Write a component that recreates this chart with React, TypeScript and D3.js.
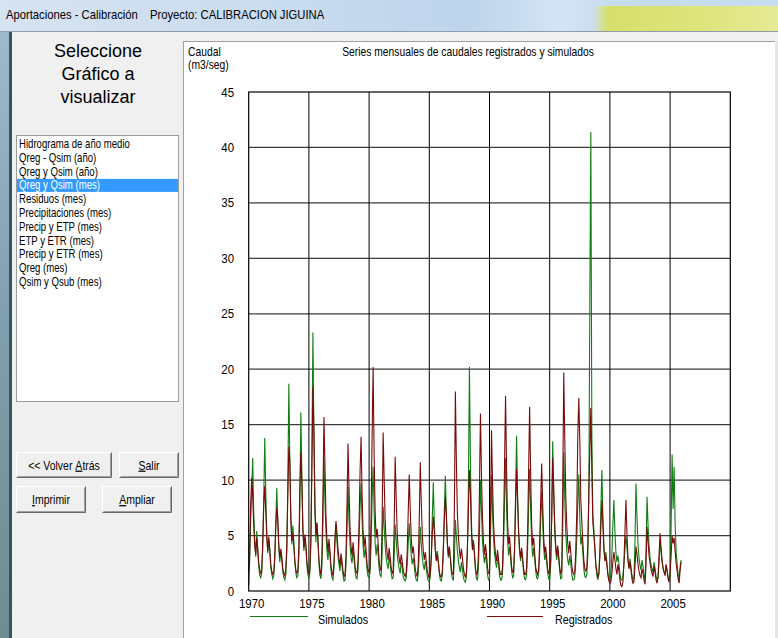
import React from "react";
import * as d3 from "d3";

// Monthly flows (m3/s), January 1970 – December 2005, one row per year
const years = d3.range(1970, 2006);

const simulados: number[][] = [
  [0.5, 2.8, 6.5, 9.0, 12.0, 7.2, 4.6, 3.1, 5.4, 3.6, 2.2, 1.4],
  [1.2, 1.6, 3.9, 8.4, 13.8, 8.9, 5.2, 3.4, 4.6, 3.8, 2.1, 1.5],
  [1.1, 1.4, 2.9, 6.2, 9.3, 6.1, 3.8, 2.6, 3.5, 2.8, 1.7, 1.2],
  [1.0, 1.5, 3.6, 9.8, 18.7, 11.5, 6.8, 4.2, 5.9, 4.4, 2.6, 1.6],
  [1.2, 1.4, 3.1, 7.9, 16.1, 10.4, 5.7, 3.6, 4.8, 3.9, 2.3, 1.5],
  [1.1, 1.6, 4.2, 12.6, 23.3, 13.8, 7.1, 4.4, 6.2, 4.6, 2.5, 1.4],
  [1.1, 2.3, 6.1, 11.8, 8.2, 5.3, 3.6, 2.8, 4.1, 3.2, 1.9, 1.2],
  [1.0, 2.1, 4.3, 6.0, 4.4, 3.1, 2.4, 1.8, 2.9, 2.3, 1.4, 0.9],
  [1.0, 2.4, 5.6, 9.4, 6.3, 4.2, 3.0, 2.5, 3.7, 2.9, 1.8, 1.2],
  [1.1, 2.0, 4.8, 7.5, 9.7, 6.4, 4.1, 3.0, 3.9, 3.0, 1.9, 1.3],
  [1.2, 1.7, 4.4, 8.3, 11.2, 7.1, 4.3, 3.2, 4.2, 3.3, 2.0, 1.4],
  [1.3, 3.4, 7.6, 5.8, 4.1, 3.0, 2.4, 2.0, 3.1, 2.5, 1.6, 1.1],
  [1.2, 3.1, 6.0, 4.6, 3.3, 2.5, 2.0, 1.6, 2.6, 2.1, 1.3, 1.0],
  [0.9, 1.2, 2.4, 4.3, 6.1, 4.5, 3.2, 2.4, 3.0, 2.3, 1.4, 1.0],
  [0.9, 1.6, 3.4, 5.8, 4.2, 3.0, 2.3, 1.9, 2.7, 2.1, 1.3, 0.9],
  [0.8, 1.3, 3.2, 6.7, 9.8, 6.2, 3.9, 2.8, 3.6, 2.7, 1.6, 1.0],
  [0.9, 1.4, 3.6, 7.3, 10.4, 6.8, 4.2, 3.0, 3.9, 2.9, 1.7, 1.1],
  [1.0, 2.9, 6.4, 4.9, 3.6, 2.7, 2.1, 1.7, 2.6, 2.0, 1.2, 0.9],
  [0.8, 1.3, 3.8, 9.6, 20.2, 11.4, 6.2, 3.9, 4.6, 3.4, 1.9, 1.1],
  [1.0, 2.2, 5.3, 10.0, 7.1, 4.6, 3.2, 2.5, 3.4, 2.6, 1.5, 1.0],
  [1.1, 4.6, 10.5, 7.2, 4.8, 3.4, 2.6, 2.1, 3.0, 2.4, 1.4, 1.0],
  [1.0, 1.6, 4.1, 8.2, 12.0, 7.6, 4.6, 3.2, 4.0, 3.0, 1.8, 1.2],
  [1.3, 3.8, 8.9, 14.0, 8.6, 5.2, 3.5, 2.7, 3.6, 2.8, 1.6, 1.1],
  [1.0, 1.5, 3.9, 7.6, 11.0, 7.3, 4.5, 3.1, 3.9, 2.9, 1.8, 1.2],
  [1.1, 1.6, 3.4, 6.4, 9.0, 6.2, 3.9, 2.8, 3.4, 2.6, 1.6, 1.1],
  [1.0, 2.4, 6.8, 13.5, 8.7, 5.4, 3.6, 2.8, 3.8, 2.9, 1.7, 1.1],
  [1.2, 5.6, 12.5, 8.4, 5.3, 3.7, 2.8, 2.3, 3.2, 2.5, 1.5, 1.0],
  [1.0, 1.3, 2.6, 4.8, 7.9, 10.5, 6.6, 4.2, 4.9, 3.5, 2.0, 1.3],
  [1.2, 1.5, 3.2, 8.4, 26.3, 41.4, 14.2, 6.8, 5.6, 3.9, 2.2, 1.4],
  [1.0, 1.6, 3.7, 7.4, 10.9, 6.8, 4.1, 2.9, 3.5, 2.6, 1.6, 1.1],
  [1.0, 1.5, 3.4, 6.0, 8.2, 5.4, 3.5, 2.6, 3.2, 2.5, 1.5, 1.0],
  [1.0, 1.3, 2.4, 3.8, 5.0, 3.9, 2.7, 2.1, 2.9, 2.2, 1.4, 1.0],
  [1.2, 4.4, 9.7, 6.6, 4.2, 3.0, 2.3, 1.9, 2.8, 2.2, 1.4, 1.0],
  [3.6, 8.5, 6.0, 4.1, 3.0, 2.4, 2.0, 1.7, 2.6, 2.1, 1.3, 1.0],
  [1.2, 2.6, 4.5, 3.5, 2.6, 2.0, 1.7, 1.5, 2.3, 1.8, 1.2, 0.9],
  [1.4, 5.8, 12.3, 7.4, 11.2, 6.1, 3.6, 2.4, 1.5, 1.1, 2.2, 2.8],
];

const registrados: number[][] = [
  [1.8, 3.5, 7.8, 10.2, 8.6, 5.9, 4.1, 3.3, 4.8, 3.9, 2.5, 1.9],
  [1.6, 1.9, 4.4, 7.6, 9.5, 7.3, 4.8, 3.6, 4.9, 3.7, 2.4, 1.8],
  [1.5, 1.7, 3.2, 5.8, 7.5, 6.6, 4.2, 3.0, 3.8, 3.1, 2.0, 1.6],
  [1.4, 2.0, 4.1, 8.7, 13.0, 11.8, 6.4, 4.5, 5.2, 4.0, 2.7, 1.9],
  [1.6, 1.8, 3.9, 9.4, 12.5, 9.6, 5.5, 3.9, 5.1, 4.2, 2.6, 1.9],
  [1.5, 2.1, 5.0, 11.2, 18.4, 14.6, 7.9, 5.0, 6.1, 4.7, 2.8, 1.8],
  [1.5, 3.1, 8.4, 15.7, 11.3, 6.8, 4.6, 3.5, 4.7, 3.6, 2.3, 1.7],
  [1.4, 2.6, 4.8, 6.3, 5.2, 3.8, 2.9, 2.3, 3.4, 2.7, 1.8, 1.3],
  [1.5, 3.2, 7.9, 13.3, 9.1, 5.6, 4.0, 3.2, 4.4, 3.4, 2.2, 1.7],
  [1.6, 2.7, 6.2, 10.8, 13.9, 8.7, 5.4, 3.9, 4.9, 3.7, 2.4, 1.8],
  [1.7, 2.4, 6.9, 14.1, 20.2, 12.4, 7.2, 4.8, 5.6, 4.3, 2.7, 1.9],
  [1.9, 6.3, 14.3, 10.1, 6.4, 4.5, 3.4, 2.8, 3.9, 3.1, 2.1, 1.6],
  [1.8, 5.9, 12.1, 8.4, 5.3, 3.8, 2.9, 2.4, 3.3, 2.7, 1.9, 1.5],
  [1.3, 1.7, 3.6, 7.1, 10.5, 7.4, 4.8, 3.4, 4.0, 3.0, 2.0, 1.5],
  [1.3, 2.5, 6.4, 11.6, 8.0, 5.1, 3.6, 2.8, 3.5, 2.7, 1.8, 1.4],
  [1.2, 1.6, 3.0, 5.2, 6.7, 5.4, 3.6, 2.7, 3.3, 2.6, 1.7, 1.3],
  [1.3, 1.8, 3.9, 6.4, 8.5, 6.9, 4.4, 3.2, 4.0, 3.0, 2.0, 1.5],
  [1.6, 7.4, 18.0, 11.6, 7.0, 4.9, 3.7, 2.9, 3.8, 3.0, 2.0, 1.5],
  [1.2, 1.7, 3.9, 7.4, 10.9, 8.8, 5.3, 3.7, 4.4, 3.3, 2.1, 1.5],
  [1.6, 3.4, 9.2, 16.0, 10.5, 6.6, 4.4, 3.3, 4.2, 3.3, 2.1, 1.6],
  [1.7, 6.8, 14.5, 9.9, 6.2, 4.4, 3.3, 2.7, 3.7, 2.9, 1.9, 1.5],
  [1.5, 2.2, 5.6, 11.4, 17.6, 11.0, 6.3, 4.2, 4.9, 3.6, 2.2, 1.7],
  [1.7, 3.9, 7.6, 11.0, 8.1, 5.4, 3.8, 3.0, 3.9, 3.0, 2.0, 1.5],
  [1.5, 2.1, 5.2, 10.9, 16.6, 10.6, 6.1, 4.1, 4.8, 3.5, 2.2, 1.7],
  [1.5, 2.0, 4.3, 8.0, 11.5, 7.9, 4.9, 3.4, 4.0, 3.0, 2.0, 1.6],
  [1.6, 2.8, 6.6, 12.0, 9.3, 6.1, 4.1, 3.2, 4.1, 3.1, 2.1, 1.6],
  [1.8, 9.3, 19.7, 13.8, 8.6, 5.9, 4.3, 3.4, 4.5, 3.5, 2.3, 1.7],
  [1.5, 1.8, 3.7, 7.2, 14.0, 17.4, 13.6, 8.2, 6.3, 4.4, 2.8, 2.0],
  [1.8, 2.1, 4.3, 8.9, 12.6, 16.5, 10.8, 6.2, 5.1, 3.8, 2.4, 1.8],
  [1.2, 1.5, 3.1, 5.8, 8.2, 6.0, 3.8, 2.7, 3.1, 2.3, 1.4, 0.9],
  [0.7, 0.9, 1.6, 2.7, 3.5, 2.8, 2.0, 1.5, 2.4, 1.8, 1.0, 0.5],
  [0.4, 0.8, 2.6, 5.4, 8.2, 5.1, 3.0, 2.0, 2.6, 1.9, 1.1, 0.7],
  [0.8, 2.2, 4.0, 3.3, 2.4, 1.8, 1.4, 1.2, 2.0, 1.6, 1.0, 0.6],
  [2.4, 5.8, 4.5, 3.2, 2.5, 2.0, 1.6, 1.3, 2.2, 1.7, 1.0, 0.7],
  [1.3, 3.3, 5.2, 3.9, 2.8, 2.1, 1.7, 1.4, 2.4, 1.9, 1.1, 0.8],
  [1.6, 3.2, 5.0, 4.3, 4.8, 3.6, 2.5, 1.8, 1.1, 0.7, 1.9, 2.6],
];

const yTicks = [0, 5, 10, 15, 20, 25, 30, 35, 40, 45];
const xTicks = [1970, 1975, 1980, 1985, 1990, 1995, 2000, 2005];
const xGrid = [1975, 1980, 1985, 1990, 1995, 2000, 2005];

const graficos = [
  "Hidrograma de año medio",
  "Qreg - Qsim (año)",
  "Qreg y Qsim (año)",
  "Qreg y Qsim (mes)",
  "Residuos (mes)",
  "Precipitaciones (mes)",
  "Precip y ETP (mes)",
  "ETP y ETR (mes)",
  "Precip y ETR (mes)",
  "Qreg (mes)",
  "Qsim y Qsub (mes)",
];
const seleccionado = 3;

const W = 778;
const H = 638;
const FONT = "'Liberation Sans', Arial, sans-serif";

type Pt = { t: number; v: number };
const toSeries = (rows: number[][]): Pt[] =>
  rows.flatMap((row, yi) => row.map((v, m) => ({ t: years[yi] + m / 12, v })));

// Narrow text: the app's UI font is a condensed sans
function T(props: {
  x: number;
  y: number;
  size: number;
  sx?: number;
  anchor?: "start" | "middle" | "end";
  fill?: string;
  children: React.ReactNode;
}) {
  const { x, y, size, sx = 0.86, anchor = "start", fill = "#000", children } = props;
  return (
    <text
      transform={`translate(${x},${y}) scale(${sx},1)`}
      fontSize={size}
      fontFamily={FONT}
      textAnchor={anchor}
      fill={fill}
    >
      {children}
    </text>
  );
}

function Boton(props: { x: number; y: number; w: number; h: number; children: React.ReactNode }) {
  const { x, y, w, h, children } = props;
  return (
    <g>
      <rect x={x} y={y} width={w} height={h} fill="#f0f0f0" />
      <path d={`M${x + 0.5},${y + h - 0.5}V${y + 0.5}H${x + w - 0.5}`} stroke="#fff" fill="none" />
      <path d={`M${x + 0.5},${y + h - 0.5}H${x + w - 0.5}V${y + 0.5}`} stroke="#696969" fill="none" />
      <path d={`M${x + 1.5},${y + h - 1.5}H${x + w - 1.5}V${y + 1.5}`} stroke="#a0a0a0" fill="none" />
      <T x={x + w / 2} y={y + h / 2 + 4.5} size={12.5} anchor="middle" sx={0.84}>
        {children}
      </T>
    </g>
  );
}

const U = ({ children }: { children: React.ReactNode }) => (
  <tspan textDecoration="underline">{children}</tspan>
);

export default function App() {
  const x = d3.scaleLinear().domain([1970, 2010]).range([248.7, 730.3]);
  const y = d3.scaleLinear().domain([0, 45]).range([591, 92]);
  const line = d3
    .line<Pt>()
    .x((d) => x(d.t))
    .y((d) => y(d.v));
  const sim = toSeries(simulados);
  const reg = toSeries(registrados);

  const listTop = 144;
  const listStep = 13.8;

  return (
    <svg
      width={W}
      height={H}
      style={{ position: "absolute", left: 0, top: 0, display: "block" }}
    >
      <defs>
        <linearGradient id="titlebar" x1="0" x2="1" y1="0" y2="0">
          <stop offset="0" stopColor="#d6e3f1" />
          <stop offset="0.35" stopColor="#cadcef" />
          <stop offset="0.6" stopColor="#bdd4ec" />
          <stop offset="0.72" stopColor="#d3e4f4" />
          <stop offset="0.78" stopColor="#c8dcf0" />
        </linearGradient>
        <linearGradient id="glow" x1="0" x2="1" y1="0" y2="0">
          <stop offset="0" stopColor="#dfe58c" stopOpacity="0" />
          <stop offset="0.08" stopColor="#d7df6a" stopOpacity="1" />
          <stop offset="0.6" stopColor="#dfe47c" />
          <stop offset="1" stopColor="#e6ea96" />
        </linearGradient>
        <linearGradient id="desk" x1="0" x2="0" y1="0" y2="1">
          <stop offset="0" stopColor="#9fb9cc" />
          <stop offset="0.5" stopColor="#7f9eab" />
          <stop offset="1" stopColor="#6f8c8f" />
        </linearGradient>
      </defs>

      {/* window frame */}
      <rect x={0} y={0} width={W} height={H} fill="#f0f0f0" />
      <rect x={0} y={0} width={W} height={31} fill="url(#titlebar)" />
      <rect x={592} y={6} width={W - 592} height={25} fill="url(#glow)" />
      <line x1={0} x2={W} y1={31.5} y2={31.5} stroke="#8e9cab" />
      <rect x={0} y={32} width={10} height={H - 32} fill="url(#desk)" />
      <rect x={9} y={32} width={3} height={H - 32} fill="#2f5761" />
      <T x={6} y={19} size={12.5} sx={0.9}>
        Aportaciones - Calibración
      </T>
      <T x={150} y={19} size={12.5} sx={0.9}>
        Proyecto: CALIBRACION JIGUINA
      </T>

      {/* selector panel */}
      <T x={98} y={57} size={18} anchor="middle" sx={1.0}>
        Seleccione
      </T>
      <T x={98} y={80} size={18} anchor="middle" sx={1.0}>
        Gráfico a
      </T>
      <T x={98} y={103} size={18} anchor="middle" sx={1.0}>
        visualizar
      </T>

      <rect x={16.5} y={135.5} width={162} height={266} fill="#fff" stroke="#9c9c9c" />
      <rect x={17} y={listTop + seleccionado * listStep - 6.5} width={161} height={13} fill="#3399ff" />
      {graficos.map((g, i) => (
        <T
          key={g}
          x={19}
          y={listTop + i * listStep + 4}
          size={12}
          sx={0.8}
          fill={i === seleccionado ? "#fff" : "#000"}
        >
          {g}
        </T>
      ))}

      <Boton x={16} y={452} w={96} h={26}>
        {"<< Volver "}
        <U>A</U>
        {"trás"}
      </Boton>
      <Boton x={119} y={452} w={60} h={26}>
        <U>S</U>
        {"alir"}
      </Boton>
      <Boton x={16} y={486} w={70} h={27}>
        <U>I</U>
        {"mprimir"}
      </Boton>
      <Boton x={102} y={486} w={70} h={27}>
        <U>A</U>
        {"mpliar"}
      </Boton>

      {/* chart panel */}
      <rect x={183} y={41} width={W - 186} height={H - 41} fill="#fff" />
      <line x1={183.5} x2={183.5} y1={41} y2={H} stroke="#a0a0a0" />
      <line x1={183} x2={W - 3} y1={41.5} y2={41.5} stroke="#a0a0a0" />
      <rect x={W - 3} y={41} width={3} height={H - 41} fill="#e6e6e6" />

      <T x={188} y={56} size={12} sx={0.86}>
        Caudal
      </T>
      <T x={188} y={69} size={12} sx={0.86}>
        (m3/seg)
      </T>
      <T x={468} y={56} size={12} anchor="middle" sx={0.86}>
        Series mensuales de caudales registrados y simulados
      </T>

      {/* grid */}
      {yTicks.slice(1, -1).map((v) => (
        <line key={v} x1={x(1970)} x2={x(2010)} y1={y(v)} y2={y(v)} stroke="#3c3c3c" strokeWidth={1.2} />
      ))}
      {xGrid.map((t) => (
        <line key={t} x1={x(t)} x2={x(t)} y1={y(0)} y2={y(45)} stroke="#000" strokeWidth={1} />
      ))}

      {/* series */}
      <path d={line(sim) ?? ""} fill="none" stroke="#0f7f12" strokeWidth={1.1} />
      <path d={line(reg) ?? ""} fill="none" stroke="#7a0a0a" strokeWidth={1.1} />

      <rect x={x(1970)} y={y(45)} width={x(2010) - x(1970)} height={y(0) - y(45)} fill="none" stroke="#000" strokeWidth={1.2} />

      {/* axes labels */}
      {yTicks.map((v) => (
        <T key={v} x={234} y={y(v) + 4.5} size={13} anchor="end" sx={0.88}>
          {v}
        </T>
      ))}
      {xTicks.map((t) => (
        <T key={t} x={x(t) + 3} y={608} size={13} anchor="middle" sx={0.88}>
          {t}
        </T>
      ))}

      {/* legend */}
      <line x1={250} x2={308} y1={616.5} y2={616.5} stroke="#0f7f12" />
      <T x={318} y={624} size={12.5} sx={0.86}>
        Simulados
      </T>
      <line x1={487} x2={543} y1={616.5} y2={616.5} stroke="#7a0a0a" />
      <T x={555} y={624} size={12.5} sx={0.86}>
        Registrados
      </T>
    </svg>
  );
}
